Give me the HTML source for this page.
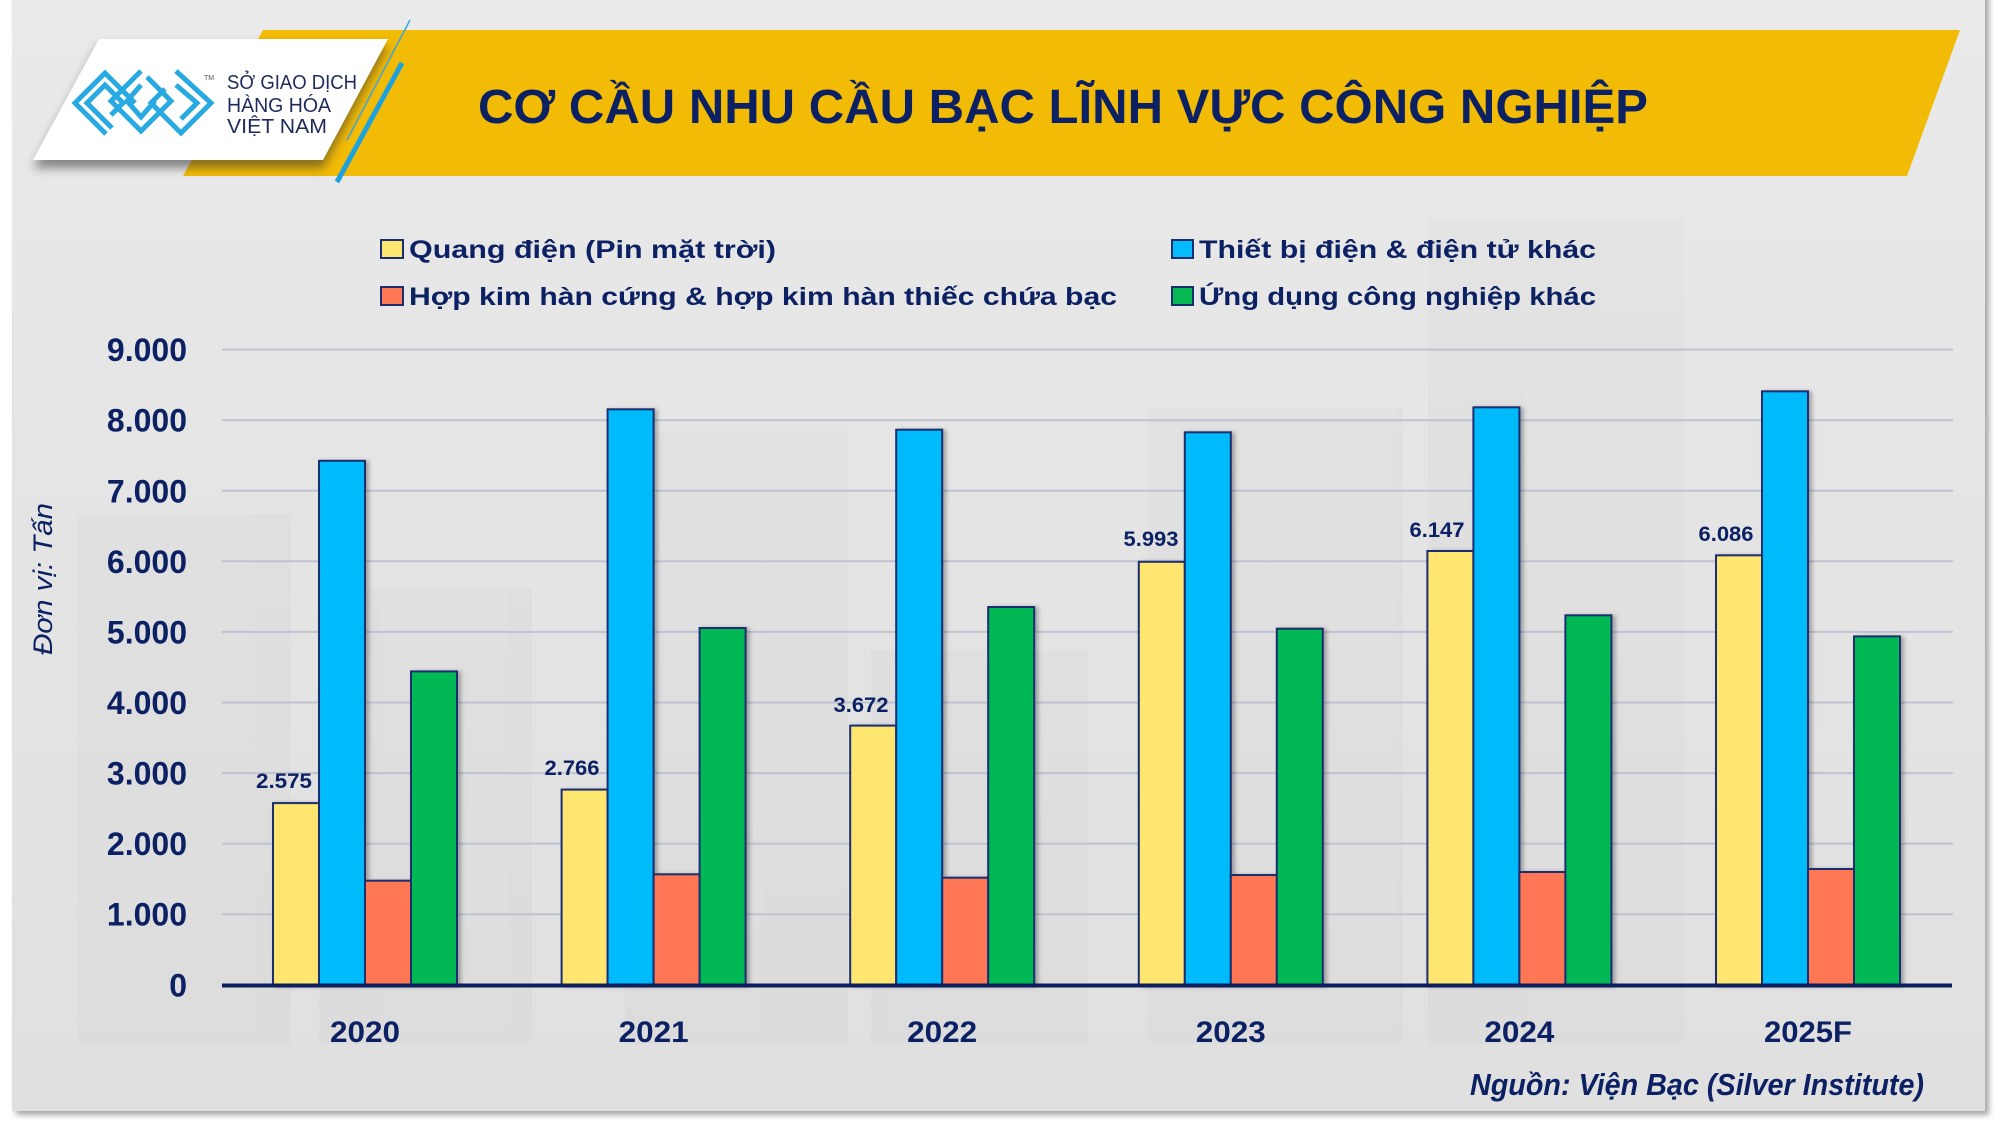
<!DOCTYPE html>
<html>
<head>
<meta charset="utf-8">
<style>
  html,body{margin:0;padding:0;background:#ffffff;}
  svg{display:block;}
  text{font-family:"Liberation Sans","DejaVu Sans",sans-serif;}
</style>
</head>
<body>
<svg width="2000" height="1125" viewBox="0 0 2000 1125" xmlns="http://www.w3.org/2000/svg">
  <defs>
    <linearGradient id="bg" x1="0" y1="0" x2="0" y2="1">
      <stop offset="0" stop-color="#eaeaea"/>
      <stop offset="0.5" stop-color="#e4e4e4"/>
      <stop offset="1" stop-color="#e0e0e0"/>
    </linearGradient>
    <filter id="cardsh" x="-5%" y="-5%" width="110%" height="110%">
      <feDropShadow dx="4" dy="4" stdDeviation="3" flood-color="#000" flood-opacity="0.35"/>
    </filter>
    <filter id="barsh" x="-20%" y="-5%" width="150%" height="110%">
      <feDropShadow dx="3" dy="1" stdDeviation="2" flood-color="#000" flood-opacity="0.3"/>
    </filter>
    <filter id="blur6"><feGaussianBlur stdDeviation="5"/></filter>
  </defs>

  <!-- card -->
  <rect x="12" y="-10" width="1973" height="1121" fill="url(#bg)" filter="url(#cardsh)"/>

  <!-- faint background blocks -->
  <g fill="#000" opacity="0.015">
    <rect x="77" y="514" width="214" height="530"/>
    <rect x="319" y="589" width="213" height="455"/>
    <rect x="625" y="431" width="223" height="613"/>
    <rect x="871" y="650" width="217" height="394"/>
    <rect x="1148" y="408" width="255" height="636"/>
    <rect x="1428" y="219" width="256" height="825"/>
  </g>

  <!-- header banner -->
  <polygon points="263,30 1960,30 1907,176 183,176" fill="#f2bb05"/>
  <!-- white panel shadow -->
  <polygon points="99,46 388,46 323,168 33,168" fill="#333" opacity="0.55" filter="url(#blur6)"/>
  <polygon points="99,39 388,39 323,160 33,160" fill="#ffffff"/>
  <!-- blue slanted lines -->
  <line x1="410" y1="20" x2="347" y2="140" stroke="#3aa6de" stroke-width="1.5"/>
  <line x1="402" y1="63" x2="337" y2="182" stroke="#1ea2dd" stroke-width="5"/>

  <!-- logo -->
  <g stroke="#29a9e1" stroke-width="5" fill="none" stroke-linejoin="miter" stroke-linecap="butt">
    <polyline points="106,134 75,103 105,73 135,103"/>
    <polyline points="112,128 87,103 105,85 123,103 111,115"/>
    <polyline points="141,71 111,101 141,131 171,101 147,77"/>
    <polyline points="141,85 127,101 141,117 155,101"/>
    <polyline points="176,71 211,103 181,133 151,103 165,89"/>
    <polyline points="176,85 197,103 181,119"/>
  </g>
  <text x="204" y="80" font-size="7" fill="#555">TM</text>
  <g fill="#1f2a5c" font-size="20">
    <text x="227" y="89" textLength="130" lengthAdjust="spacingAndGlyphs">SỞ GIAO DỊCH</text>
    <text x="227" y="112" textLength="104" lengthAdjust="spacingAndGlyphs">HÀNG HÓA</text>
    <text x="227" y="133" textLength="100" lengthAdjust="spacingAndGlyphs">VIỆT NAM</text>
  </g>

  <!-- title -->
  <text x="478" y="123" font-size="48" font-weight="bold" fill="#0c2163" textLength="1170" lengthAdjust="spacingAndGlyphs">CƠ CẦU NHU CẦU BẠC LĨNH VỰC CÔNG NGHIỆP</text>

  <!-- legend -->
  <g stroke="#1a2e6e" stroke-width="2">
    <rect x="381" y="240" width="22" height="18" fill="#ffe670"/>
    <rect x="381" y="287" width="22" height="18" fill="#ff7755"/>
    <rect x="1172" y="240" width="21" height="18" fill="#05bbfb"/>
    <rect x="1172" y="287" width="21" height="18" fill="#06b955"/>
  </g>
  <g fill="#0c2163" font-size="25" font-weight="bold">
    <text x="409" y="258" textLength="367" lengthAdjust="spacingAndGlyphs">Quang điện (Pin mặt trời)</text>
    <text x="409" y="305" textLength="708" lengthAdjust="spacingAndGlyphs">Hợp kim hàn cứng &amp; hợp kim hàn thiếc chứa bạc</text>
    <text x="1199" y="258" textLength="397" lengthAdjust="spacingAndGlyphs">Thiết bị điện &amp; điện tử khác</text>
    <text x="1199" y="305" textLength="397" lengthAdjust="spacingAndGlyphs">Ứng dụng công nghiệp khác</text>
  </g>

  <!-- gridlines -->
  <g stroke="#bfc3d0" stroke-width="2">
    <line x1="222" y1="914.2" x2="1953" y2="914.2"/>
    <line x1="222" y1="843.6" x2="1953" y2="843.6"/>
    <line x1="222" y1="773.1" x2="1953" y2="773.1"/>
    <line x1="222" y1="702.5" x2="1953" y2="702.5"/>
    <line x1="222" y1="631.9" x2="1953" y2="631.9"/>
    <line x1="222" y1="561.3" x2="1953" y2="561.3"/>
    <line x1="222" y1="490.8" x2="1953" y2="490.8"/>
    <line x1="222" y1="420.2" x2="1953" y2="420.2"/>
    <line x1="222" y1="349.6" x2="1953" y2="349.6"/>
  </g>

  <!-- y tick labels -->
  <g fill="#0c2163" font-size="32" font-weight="bold" text-anchor="end">
    <text x="187" y="996.3">0</text>
    <text x="187" y="925.7">1.000</text>
    <text x="187" y="855.1">2.000</text>
    <text x="187" y="784.6">3.000</text>
    <text x="187" y="714.0">4.000</text>
    <text x="187" y="643.4">5.000</text>
    <text x="187" y="572.8">6.000</text>
    <text x="187" y="502.3">7.000</text>
    <text x="187" y="431.7">8.000</text>
    <text x="187" y="361.1">9.000</text>
  </g>

  <!-- y axis title -->
  <text transform="translate(52,579) rotate(-90)" text-anchor="middle" font-size="27" font-style="italic" fill="#0c2163" textLength="152" lengthAdjust="spacingAndGlyphs">Đơn vị: Tấn</text>

  <!-- bars -->
  <g stroke="#1a2e6e" stroke-width="2" filter="url(#barsh)">
    <!-- 2020 -->
    <rect x="273" y="803.1" width="46" height="181.7" fill="#ffe670"/>
    <rect x="319" y="460.8" width="46" height="524.0" fill="#05bbfb"/>
    <rect x="365" y="880.7" width="46" height="104.1" fill="#ff7755"/>
    <rect x="411" y="671.4" width="46" height="313.4" fill="#06b955"/>
    <!-- 2021 -->
    <rect x="561.6" y="789.6" width="46" height="195.2" fill="#ffe670"/>
    <rect x="607.6" y="409.3" width="46" height="575.5" fill="#05bbfb"/>
    <rect x="653.6" y="874.3" width="46" height="110.5" fill="#ff7755"/>
    <rect x="699.6" y="628.0" width="46" height="356.8" fill="#06b955"/>
    <!-- 2022 -->
    <rect x="850.2" y="725.6" width="46" height="259.2" fill="#ffe670"/>
    <rect x="896.2" y="429.7" width="46" height="555.1" fill="#05bbfb"/>
    <rect x="942.2" y="877.7" width="46" height="107.1" fill="#ff7755"/>
    <rect x="988.2" y="607.0" width="46" height="377.8" fill="#06b955"/>
    <!-- 2023 -->
    <rect x="1138.8" y="561.8" width="46" height="423.0" fill="#ffe670"/>
    <rect x="1184.8" y="432.3" width="46" height="552.5" fill="#05bbfb"/>
    <rect x="1230.8" y="875.0" width="46" height="109.8" fill="#ff7755"/>
    <rect x="1276.8" y="628.7" width="46" height="356.1" fill="#06b955"/>
    <!-- 2024 -->
    <rect x="1427.4" y="551.0" width="46" height="433.8" fill="#ffe670"/>
    <rect x="1473.4" y="407.3" width="46" height="577.5" fill="#05bbfb"/>
    <rect x="1519.4" y="872.0" width="46" height="112.8" fill="#ff7755"/>
    <rect x="1565.4" y="615.3" width="46" height="369.5" fill="#06b955"/>
    <!-- 2025F -->
    <rect x="1716" y="555.3" width="46" height="429.5" fill="#ffe670"/>
    <rect x="1762" y="391.3" width="46" height="593.5" fill="#05bbfb"/>
    <rect x="1808" y="869.0" width="46" height="115.8" fill="#ff7755"/>
    <rect x="1854" y="636.4" width="46" height="348.4" fill="#06b955"/>
  </g>

  <!-- x axis -->
  <line x1="222" y1="985.5" x2="1952" y2="985.5" stroke="#0c1f5c" stroke-width="4"/>

  <!-- data labels -->
  <g fill="#0c2163" font-size="21" font-weight="bold" text-anchor="middle">
    <text x="284" y="788" textLength="56" lengthAdjust="spacingAndGlyphs">2.575</text>
    <text x="572" y="775" textLength="55" lengthAdjust="spacingAndGlyphs">2.766</text>
    <text x="861" y="712" textLength="55" lengthAdjust="spacingAndGlyphs">3.672</text>
    <text x="1151" y="546" textLength="55" lengthAdjust="spacingAndGlyphs">5.993</text>
    <text x="1437" y="537" textLength="55" lengthAdjust="spacingAndGlyphs">6.147</text>
    <text x="1726" y="541" textLength="55" lengthAdjust="spacingAndGlyphs">6.086</text>
  </g>

  <!-- x labels -->
  <g fill="#0c2163" font-size="30" font-weight="bold" text-anchor="middle">
    <text x="365" y="1042" textLength="70" lengthAdjust="spacingAndGlyphs">2020</text>
    <text x="653.6" y="1042" textLength="70" lengthAdjust="spacingAndGlyphs">2021</text>
    <text x="942.2" y="1042" textLength="70" lengthAdjust="spacingAndGlyphs">2022</text>
    <text x="1230.8" y="1042" textLength="70" lengthAdjust="spacingAndGlyphs">2023</text>
    <text x="1519.4" y="1042" textLength="70" lengthAdjust="spacingAndGlyphs">2024</text>
    <text x="1808" y="1042" textLength="88" lengthAdjust="spacingAndGlyphs">2025F</text>
  </g>

  <!-- source -->
  <text x="1924" y="1095" text-anchor="end" font-size="31" font-weight="bold" font-style="italic" fill="#0c2163" textLength="454" lengthAdjust="spacingAndGlyphs">Nguồn: Viện Bạc (Silver Institute)</text>
</svg>
</body>
</html>
